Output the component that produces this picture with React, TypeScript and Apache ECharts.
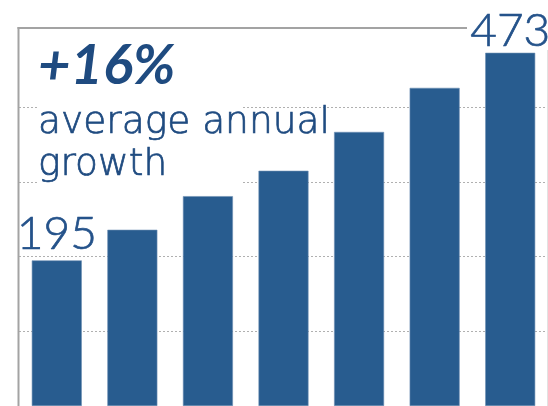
import React, { useEffect, useRef } from "react";
import * as echarts from "echarts";

const categories = ["1", "2", "3", "4", "5", "6", "7"];
const values = [195, 236, 281, 315, 367, 426, 473];
const headline = "+16%";
const subLines = ["average annual", "growth"];

export default function App() {
  const ref = useRef<HTMLDivElement>(null);
  useEffect(() => {
    if (!ref.current) return;
    const chart = echarts.init(ref.current, undefined, { renderer: "svg" });
    const navy = "#1f4b80";
    const barColor = "#285c8f";
    const last = values.length - 1;
    chart.setOption({
      animation: false,
      grid: { left: 19, width: 530, top: 32.6, bottom: 0 },
      xAxis: {
        type: "category",
        data: categories,
        axisLine: { show: false },
        axisTick: { show: false },
        axisLabel: { show: false },
      },
      yAxis: {
        type: "value",
        min: 0,
        max: 500,
        interval: 100,
        axisLine: { show: false },
        axisTick: { show: false },
        axisLabel: { show: false },
        splitLine: {
          show: true,
          showMinLine: false,
          showMaxLine: false,
          lineStyle: { color: "#b0b0b0", type: [2, 2], width: 1.2 },
        },
      },
      series: [
        {
          type: "bar",
          barWidth: 50,
          z: 2,
          itemStyle: { color: barColor, borderColor: "#6d8fb3", borderWidth: 0.6 },
          data: values.map((v, i) => ({
            value: v,
            label: {
              show: i === 0 || i === last,
              position: "top",
              distance: i === 0 ? 14 : 9,
              fontFamily: "Lato",
              fontWeight: 300,
              fontSize: 46,
              lineHeight: 30,
              color: "#24528a",
              textBorderColor: "#24528a",
              textBorderWidth: 0.7,
            },
          })),
        },
      ],
      graphic: [
        {
          type: "rect",
          left: 37,
          top: 40,
          z: 100,
          shape: { width: 206, height: 148 },
          style: { fill: "#ffffff" },
        },
        {
          type: "line",
          z: 100,
          shape: { x1: 18.5, y1: 27, x2: 18.5, y2: 406 },
          style: { stroke: "#a3a3a3", lineWidth: 2 },
        },
        {
          type: "line",
          z: 100,
          shape: { x1: 17.5, y1: 28, x2: 467, y2: 28 },
          style: { stroke: "#a3a3a3", lineWidth: 2 },
        },
        {
          type: "line",
          z: 100,
          shape: { x1: 547.5, y1: 50, x2: 547.5, y2: 406 },
          style: { stroke: "#e2e2e2", lineWidth: 1 },
        },
        {
          type: "text",
          z: 101,
          x: 38,
          y: 34,
          style: {
            text: headline,
            fontFamily: "Lato",
            fontWeight: "bold",
            fontStyle: "italic",
            fontSize: 56,
            fill: navy,
          },
        },
        {
          type: "text",
          z: 101,
          x: 38,
          y: 101,
          style: {
            text: subLines[0],
            fontFamily: "DejaVu Sans",
            fontWeight: 200,
            fontSize: 37.5,
            fill: navy,
            stroke: navy,
            lineWidth: 0.7,
          },
        },
        {
          type: "text",
          z: 101,
          x: 38,
          y: 143,
          style: {
            text: subLines[1],
            fontFamily: "DejaVu Sans",
            fontWeight: 200,
            fontSize: 37.5,
            fill: navy,
            stroke: navy,
            lineWidth: 0.7,
          },
        },
      ],
    });
    return () => chart.dispose();
  }, []);
  return (
    <div
      ref={ref}
      style={{ position: "fixed", left: 0, top: 0, width: 548, height: 406 }}
    />
  );
}
